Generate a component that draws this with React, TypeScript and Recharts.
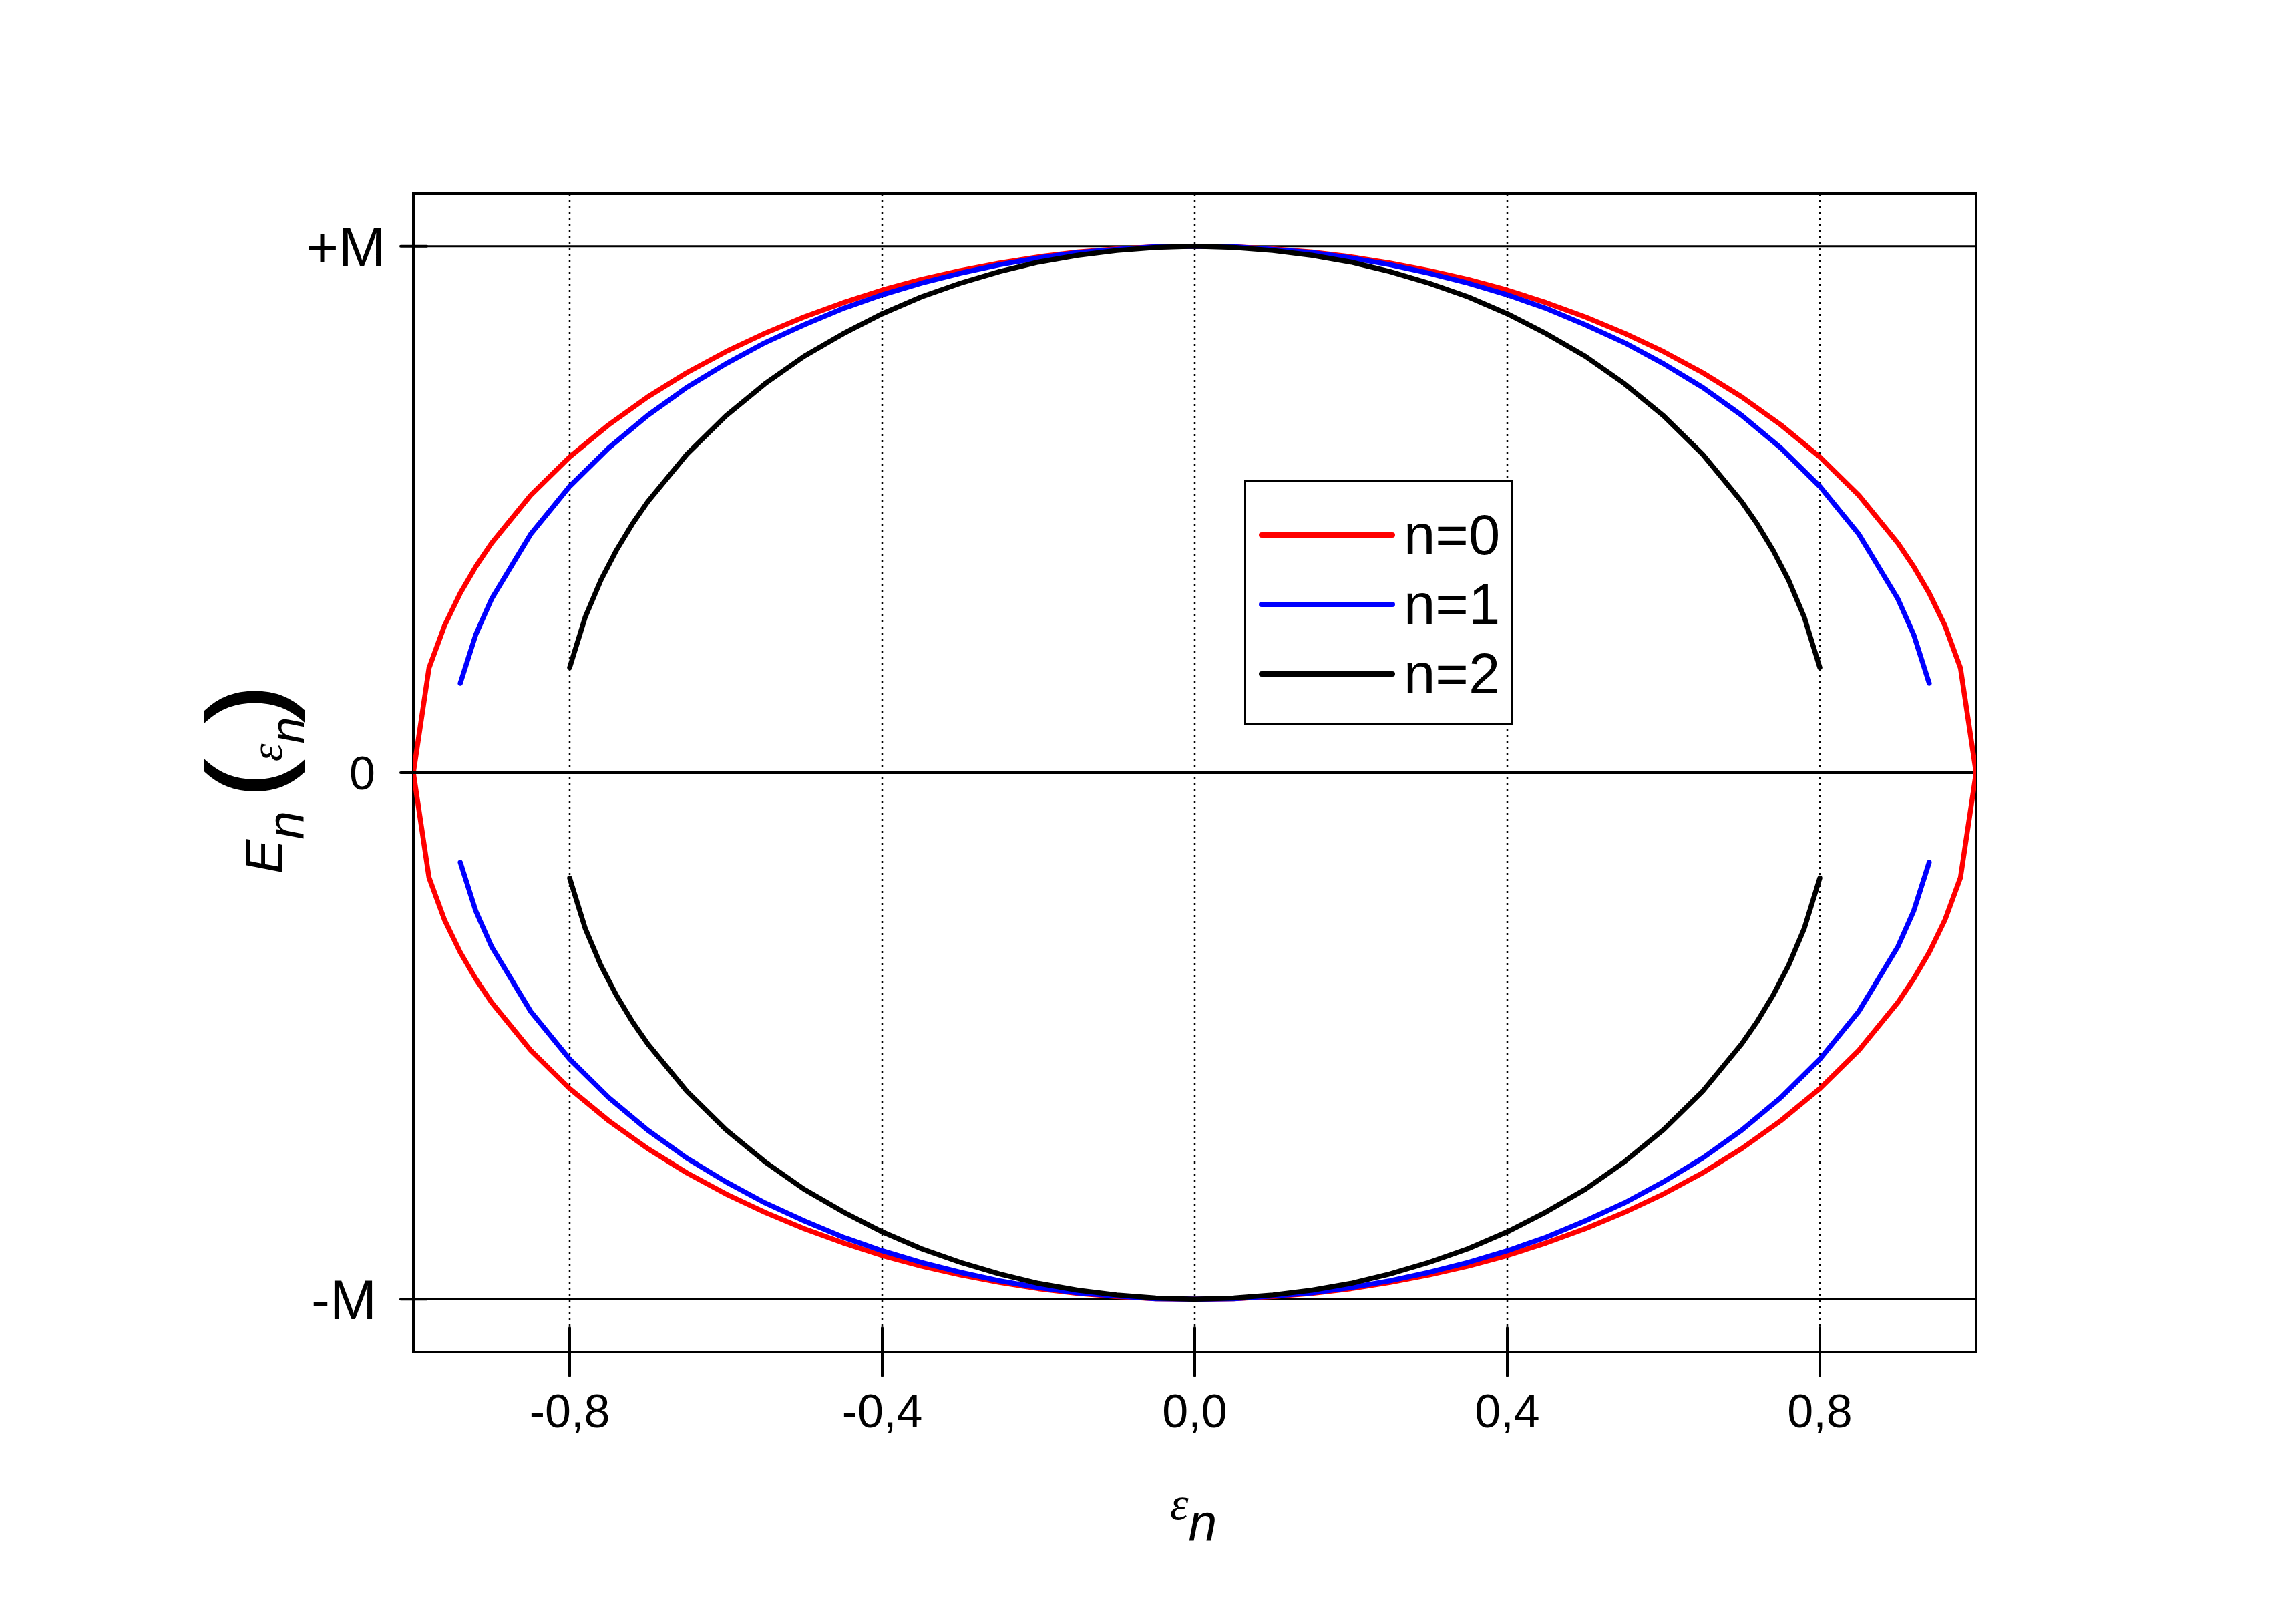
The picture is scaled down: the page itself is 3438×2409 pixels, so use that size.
import {
  LineChart,
  Line,
  XAxis,
  YAxis,
  CartesianGrid,
  ReferenceLine,
  ReferenceArea,
  Legend,
} from "recharts";

const SANS = "'Liberation Sans', Arial, sans-serif";
const SERIF = "'Liberation Serif', 'Times New Roman', serif";

// ticks
const xTicks = [-0.8, -0.4, 0, 0.4, 0.8];
const xTickLabels = ["-0,8", "-0,4", "0,0", "0,4", "0,8"];
const yTicks = [-1, 0, 1];
const yTickLabels = ["-M", "0", "+M"];

// n=0 (upper branch)
const redEps = [
  -1, -0.98, -0.96, -0.94, -0.92, -0.9, -0.85, -0.8, -0.75, -0.7, -0.65, -0.6,
  -0.55, -0.5, -0.45, -0.4, -0.35, -0.3, -0.25, -0.2, -0.15, -0.1, -0.05, 0,
  0.05, 0.1, 0.15, 0.2, 0.25, 0.3, 0.35, 0.4, 0.45, 0.5, 0.55, 0.6, 0.65, 0.7,
  0.75, 0.8, 0.85, 0.9, 0.92, 0.94, 0.96, 0.98, 1,
];
const redTop = [
  0, 0.199, 0.28, 0.341, 0.392, 0.436, 0.527, 0.6, 0.661, 0.714, 0.76, 0.8,
  0.835, 0.866, 0.893, 0.917, 0.937, 0.954, 0.968, 0.98, 0.989, 0.995, 0.999, 1,
  0.999, 0.995, 0.989, 0.98, 0.968, 0.954, 0.937, 0.917, 0.893, 0.866, 0.835,
  0.8, 0.76, 0.714, 0.661, 0.6, 0.527, 0.436, 0.392, 0.341, 0.28, 0.199, 0,
];

// n=1
const blueEps = [
  -0.94, -0.92, -0.9, -0.85, -0.8, -0.75, -0.7, -0.65, -0.6, -0.55, -0.5,
  -0.45, -0.4, -0.35, -0.3, -0.25, -0.2, -0.15, -0.1, -0.05, 0, 0.05, 0.1,
  0.15, 0.2, 0.25, 0.3, 0.35, 0.4, 0.45, 0.5, 0.55, 0.6, 0.65, 0.7, 0.75, 0.8,
  0.85, 0.9, 0.92, 0.94,
];
const blueTop = [
  0.17, 0.263, 0.33, 0.453, 0.544, 0.617, 0.679, 0.732, 0.777, 0.817, 0.851,
  0.882, 0.908, 0.93, 0.949, 0.965, 0.978, 0.988, 0.994, 0.999, 1, 0.999,
  0.994, 0.988, 0.978, 0.965, 0.949, 0.93, 0.908, 0.882, 0.851, 0.817, 0.777,
  0.732, 0.679, 0.617, 0.544, 0.453, 0.33, 0.263, 0.17,
];

// n=2
const blackEps = [
  -0.8, -0.78, -0.76, -0.74, -0.72, -0.7, -0.65, -0.6, -0.55, -0.5, -0.45,
  -0.4, -0.35, -0.3, -0.25, -0.2, -0.15, -0.1, -0.05, 0, 0.05, 0.1, 0.15, 0.2,
  0.25, 0.3, 0.35, 0.4, 0.45, 0.5, 0.55, 0.6, 0.65, 0.7, 0.72, 0.74, 0.76,
  0.78, 0.8,
];
const blackTop = [
  0.2, 0.296, 0.366, 0.423, 0.472, 0.515, 0.605, 0.678, 0.739, 0.791, 0.834,
  0.872, 0.904, 0.93, 0.952, 0.97, 0.983, 0.992, 0.998, 1, 0.998, 0.992, 0.983,
  0.97, 0.952, 0.93, 0.904, 0.872, 0.834, 0.791, 0.739, 0.678, 0.605, 0.515,
  0.472, 0.423, 0.366, 0.296, 0.2,
];

const series = [
  { name: "n=0", color: "#ff0000", eps: redEps, top: redTop },
  { name: "n=1", color: "#0000ff", eps: blueEps, top: blueTop },
  { name: "n=2", color: "#000000", eps: blackEps, top: blackTop },
];

// lower branch is the mirror image of the upper one
const toPoints = (eps: number[], vals: number[], sign: number) =>
  eps.map((e, i) => ({ e, v: sign * vals[i] }));

function XTick(props: any) {
  const { x, y, payload } = props;
  const i = xTicks.indexOf(payload.value);
  return (
    <g>
      <line x1={x} x2={x} y1={y - 36} y2={y + 36} stroke="#000" strokeWidth={4} strokeLinecap="round" />
      <text x={x} y={y + 113} textAnchor="middle" fontFamily={SANS} fontSize={70} fill="#000">
        {xTickLabels[i]}
      </text>
    </g>
  );
}

// label size / gap to the axis differ a little per label in the original
const yLabelFont = [84, 70, 84];
const yLabelGap = [55, 57, 42];

function YTick(props: any) {
  const { x, y, payload } = props;
  const i = yTicks.indexOf(payload.value);
  const fs = yLabelFont[i];
  return (
    <g>
      <line x1={x - 19} x2={x + 20} y1={y} y2={y} stroke="#000" strokeWidth={4} strokeLinecap="round" />
      <text x={x - yLabelGap[i]} y={y + fs * 0.36} textAnchor="end" fontFamily={SANS} fontSize={fs} fill="#000">
        {yTickLabels[i]}
      </text>
    </g>
  );
}

function YTitle() {
  return (
    <text x={422} y={1308} transform="rotate(-90 422 1308)" fill="#000">
      <tspan fontFamily={SANS} fontStyle="italic" fontSize={77}>E</tspan>
      <tspan fontFamily={SANS} fontStyle="italic" fontSize={77} dy={33}>n</tspan>
      <tspan fontFamily={SANS} fontSize={158} stroke="#000" strokeWidth={4} dx={21} dy={-33}>(</tspan>
      <tspan fontFamily={SERIF} fontStyle="italic" fontSize={68}>ε</tspan>
      <tspan fontFamily={SANS} fontStyle="italic" fontSize={72} dy={33}>n</tspan>
      <tspan fontFamily={SANS} fontSize={158} stroke="#000" strokeWidth={4} dx={-6} dy={-33}>)</tspan>
    </text>
  );
}

function XTitle() {
  return (
    <text x={1752} y={2275} fill="#000">
      <tspan fontFamily={SERIF} fontStyle="italic" fontSize={70}>ε</tspan>
      <tspan fontFamily={SANS} fontStyle="italic" fontSize={77} dy={32}>n</tspan>
    </text>
  );
}

function LegendBox() {
  return (
    <svg width={403} height={367} style={{ display: "block" }}>
      <rect x={1.5} y={1.5} width={400} height={364} fill="#fff" stroke="#000" strokeWidth={3} />
      {series.map((s, i) => {
        const ly = 83 + i * 104;
        return (
          <g key={s.name}>
            <line x1={26} x2={222} y1={ly} y2={ly} stroke={s.color} strokeWidth={8} strokeLinecap="round" />
            <text x={239} y={ly + 29} fontFamily={SANS} fontSize={85} fill="#000">
              {s.name}
            </text>
          </g>
        );
      })}
    </svg>
  );
}

export default function App() {
  return (
    <div style={{ position: "absolute", left: 0, top: 0, width: 3438, height: 2409, background: "#fff" }}>
      <LineChart
        width={3438}
        height={2409}
        margin={{ top: 290, right: 479, bottom: 285, left: 519 }}
      >
        <CartesianGrid
          horizontal={false}
          vertical={true}
          stroke="#000"
          strokeWidth={2.5}
          strokeDasharray="3 6"
        />
        <XAxis
          dataKey="e"
          type="number"
          domain={[-1, 1]}
          ticks={xTicks}
          interval={0}
          height={100}
          axisLine={false}
          tickLine={false}
          tickSize={0}
          tickMargin={0}
          tick={<XTick />}
          label={<XTitle />}
          allowDataOverflow
        />
        <YAxis
          type="number"
          domain={[-1.1, 1.1]}
          ticks={yTicks}
          interval={0}
          width={100}
          axisLine={false}
          tickLine={false}
          tickSize={0}
          tickMargin={0}
          tick={<YTick />}
          label={<YTitle />}
          allowDataOverflow
        />
        <ReferenceLine y={1} stroke="#000" strokeWidth={3} />
        <ReferenceLine y={0} stroke="#000" strokeWidth={4} />
        <ReferenceLine y={-1} stroke="#000" strokeWidth={3} />
        <ReferenceArea
          x1={-1}
          x2={1}
          y1={-1.1}
          y2={1.1}
          fill="none"
          fillOpacity={0}
          stroke="#000"
          strokeWidth={4}
        />
        {series.map((s) => (
          <Line
            key={s.name + "-top"}
            data={toPoints(s.eps, s.top, 1)}
            dataKey="v"
            name={s.name}
            type="linear"
            stroke={s.color}
            strokeWidth={7.5}
            strokeLinejoin="round"
            strokeLinecap="round"
            dot={false}
            activeDot={false}
            isAnimationActive={false}
          />
        ))}
        {series.map((s) => (
          <Line
            key={s.name + "-bottom"}
            data={toPoints(s.eps, s.top, -1)}
            dataKey="v"
            name={s.name}
            legendType="none"
            type="linear"
            stroke={s.color}
            strokeWidth={7.5}
            strokeLinejoin="round"
            strokeLinecap="round"
            dot={false}
            activeDot={false}
            isAnimationActive={false}
          />
        ))}
        <Legend
          layout="horizontal"
          verticalAlign="middle"
          align="center"
          wrapperStyle={{ left: 1863, top: 718, width: 403, height: 367 }}
          content={<LegendBox />}
        />
      </LineChart>
    </div>
  );
}
